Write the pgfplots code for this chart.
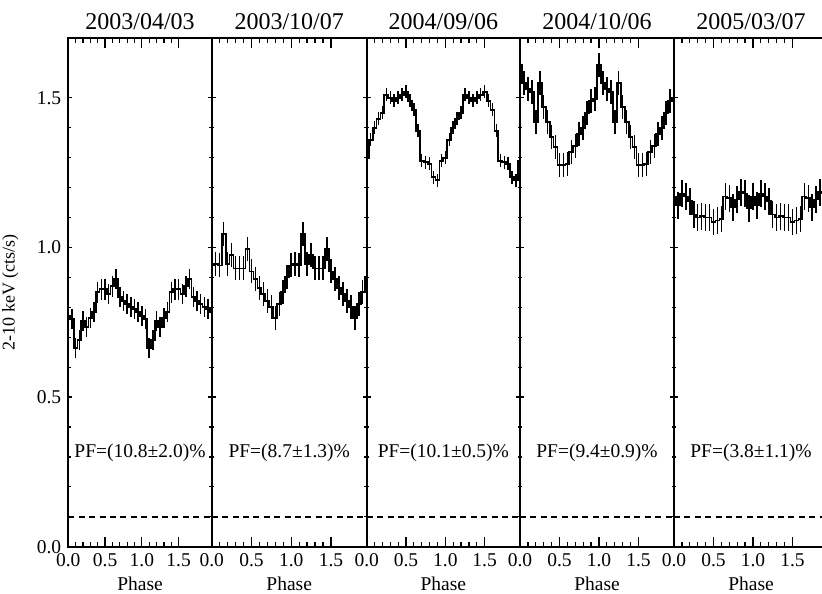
\documentclass[border=0pt]{standalone}
\usepackage{pgfplots}
\pgfplotsset{compat=1.18}
\usepackage{pgfplotstable}
\usepackage{fontspec}
\setmainfont{Liberation Serif}
\newcommand\lab{\fontsize{9.75}{11}\selectfont}

% folded 2-10 keV light curves, two cycles, one column per epoch
\pgfplotstableread{
x    a     b     c     d     e
0.00 0.77  0.94  1.30  1.61  1.17
0.05 0.76  0.945 1.36  1.55  1.14
0.10 0.665 0.94  1.40  1.53  1.18
0.15 0.69  1.045 1.43  1.52  1.17
0.20 0.755 0.945 1.45  1.42  1.155
0.25 0.735 0.975 1.51  1.55  1.11
0.30 0.765 0.93  1.50  1.47  1.10
0.35 0.785 0.93  1.49  1.42  1.105
0.40 0.85  0.93  1.50  1.37  1.10
0.45 0.86  0.995 1.51  1.335 1.10
0.50 0.86  0.92  1.52  1.275 1.085
0.55 0.845 0.895 1.49  1.275 1.09
0.60 0.87  0.865 1.46  1.28  1.095
0.65 0.895 0.845 1.39  1.32  1.17
0.70 0.835 0.82  1.29  1.34  1.165
0.75 0.82  0.80  1.285 1.38  1.135
0.80 0.81  0.765 1.28  1.40  1.16
0.85 0.80  0.81  1.235 1.45  1.185
0.90 0.795 0.85  1.225 1.49  1.18
0.95 0.785 0.90  1.29  1.495 1.13
1.00 0.77  0.94  1.30  1.61  1.17
1.05 0.76  0.945 1.36  1.55  1.14
1.10 0.665 0.94  1.40  1.53  1.18
1.15 0.69  1.045 1.43  1.52  1.17
1.20 0.755 0.945 1.45  1.42  1.155
1.25 0.735 0.975 1.51  1.55  1.11
1.30 0.765 0.93  1.50  1.47  1.10
1.35 0.785 0.93  1.49  1.42  1.105
1.40 0.85  0.93  1.50  1.37  1.10
1.45 0.86  0.995 1.51  1.335 1.10
1.50 0.86  0.92  1.52  1.275 1.085
1.55 0.845 0.895 1.49  1.275 1.09
1.60 0.87  0.865 1.46  1.28  1.095
1.65 0.895 0.845 1.39  1.32  1.17
1.70 0.835 0.82  1.29  1.34  1.165
1.75 0.82  0.80  1.285 1.38  1.135
1.80 0.81  0.765 1.28  1.40  1.16
1.85 0.80  0.81  1.235 1.45  1.185
1.90 0.795 0.85  1.225 1.49  1.18
1.95 0.785 0.90  1.29  1.495 1.13
}\prof

\pgfplotsset{
  panel/.style={
    at={(#1)}, anchor=south west,
    scale only axis, height=254.35pt,
    xmin=0, xmax=1.95, ymin=0, ymax=1.7,
    xtick={0,0.5,1,1.5}, xticklabels={0.0,0.5,1.0,1.5},
    ytick={0,0.5,1,1.5}, yticklabels={},
    minor x tick num=4, minor y tick num=4,
    tick align=inside,
    axis line style={line width=1pt},
    tick style={black, line width=0.6pt},
    every x tick/.style={/pgfplots/major tick length=5pt, /pgfplots/minor tick length=2.5pt},
    every y tick/.style={/pgfplots/major tick length=2pt, /pgfplots/minor tick length=1.2pt},
    ticklabel style={font=\lab},
    xlabel={Phase},
    xlabel style={font=\lab, at={(axis description cs:0.5,0)}, anchor=base, yshift=-21.65pt},
    every axis title/.style={font=\fontsize{12}{13}\selectfont, at={(axis description cs:0.5,1)}, anchor=base, yshift=4pt},
  },
  prof/.style={black, line width=0.9pt, const plot mark mid, mark=none,
    error bars/.cd, y dir=both, y fixed=#1, error bar style={line width=0.75pt}, error mark=none},
  bg/.style={black, line width=0.75pt, dash pattern=on 3pt off 2.2pt},
}

\begin{document}
\begin{tikzpicture}
\begin{axis}[panel={34.15pt,23.15pt}, width=71.7pt, title={2003/04/03},
  yticklabels={0.0,0.5,1.0,1.5}, ylabel={2-10 keV (cts/s)},
  ylabel style={font=\fontsize{9}{10}\selectfont, at={(axis description cs:-0.404,0.5)}, anchor=center}]
\addplot[prof=0.034] table[x=x,y=a]{\prof};
\addplot[bg] coordinates {(0,0.1) (1.95,0.1)};
\node[font=\lab] at (axis cs:0.975,0.313) {PF=(10.8±2.0)\%};
\end{axis}

\begin{axis}[panel={105.85pt,23.15pt}, width=77.5pt, title={2003/10/07}]
\addplot[prof=0.04] table[x=x,y=b]{\prof};
\addplot[bg] coordinates {(0,0.1) (1.95,0.1)};
\node[font=\lab] at (axis cs:0.975,0.313) {PF=(8.7±1.3)\%};
\end{axis}

\begin{axis}[panel={183.35pt,23.15pt}, width=76.65pt, title={2004/09/06}]
\addplot[prof=0.022] table[x=x,y=c]{\prof};
\addplot[bg] coordinates {(0,0.1) (1.95,0.1)};
\node[font=\lab] at (axis cs:0.975,0.313) {PF=(10.1±0.5)\%};
\end{axis}

\begin{axis}[panel={260pt,23.15pt}, width=77pt, title={2004/10/06}]
\addplot[prof=0.04] table[x=x,y=d]{\prof};
\addplot[bg] coordinates {(0,0.1) (1.95,0.1)};
\node[font=\lab] at (axis cs:0.975,0.313) {PF=(9.4±0.9)\%};
\end{axis}

\begin{axis}[panel={337pt,23.15pt}, width=77pt, title={2005/03/07}]
\addplot[prof=0.045] table[x=x,y=e]{\prof};
\addplot[bg] coordinates {(0,0.1) (1.95,0.1)};
\node[font=\lab] at (axis cs:0.975,0.313) {PF=(3.8±1.1)\%};
\end{axis}

\pgfresetboundingbox
\path[use as bounding box] (0,0) rectangle (411pt,296.5pt);
\end{tikzpicture}
\end{document}
